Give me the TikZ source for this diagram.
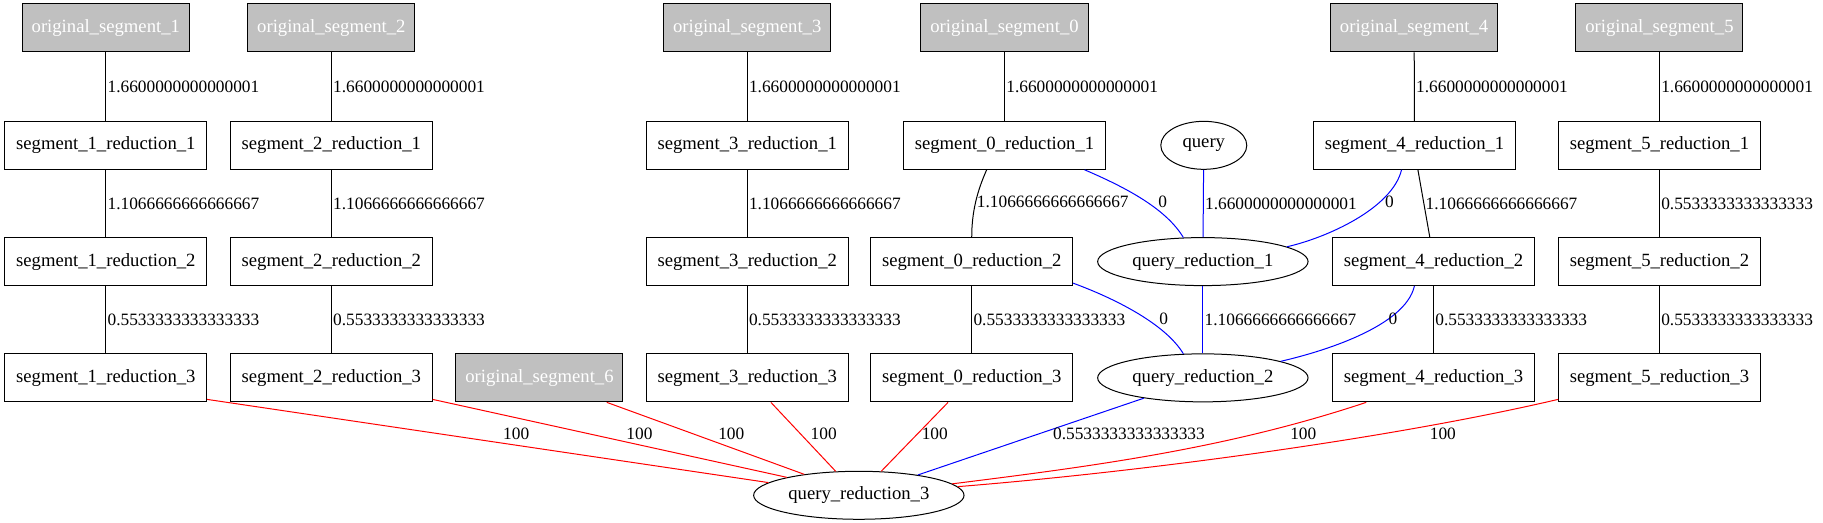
\documentclass[tikz,border=0pt]{standalone}
\usepackage{fontspec}
\setmainfont{Liberation Serif}
\usetikzlibrary{shapes.geometric,positioning}
\definecolor{origgray}{HTML}{C0C0C0}

\begin{document}
\begin{tikzpicture}[x=0.872pt,y=-0.872pt,
    every node/.style={font=\fontsize{14}{16}\selectfont},
    segbox/.style={rectangle,draw,line width=0.75pt,inner sep=0pt,minimum width=151.3pt,minimum height=36pt},
    origbox/.style={rectangle,draw,line width=0.75pt,inner sep=0pt,fill=origgray,text=white,minimum width=125.3pt,minimum height=36pt},
    qell/.style={ellipse,draw,line width=0.75pt,inner sep=0pt,minimum width=157.8pt,minimum height=36pt},
    lbl/.style={inner sep=1pt,font=\fontsize{13}{15}\selectfont},
    blackline/.style={draw=black,line width=0.75pt},
    blueline/.style={draw=blue,line width=0.75pt},
    redline/.style={draw=red,line width=0.75pt}]
  \useasboundingbox (0,0) rectangle (1568,449.8);

  % original segments
  \node[origbox] (os1) at (91,24) {original\_segment\_1};
  \node[origbox] (os2) at (285,24) {original\_segment\_2};
  \node[origbox] (os3) at (642.7,24) {original\_segment\_3};
  \node[origbox] (os0) at (864,24) {original\_segment\_0};
  \node[origbox] (os4) at (1216.3,24) {original\_segment\_4};
  \node[origbox] (os5) at (1427.3,24) {original\_segment\_5};
  \node[origbox] (os6) at (464,325) {original\_segment\_6};

  % reductions
  \node[segbox] (s1r1) at (91,125) {segment\_1\_reduction\_1};
  \node[segbox] (s1r2) at (91,225) {segment\_1\_reduction\_2};
  \node[segbox] (s1r3) at (91,325) {segment\_1\_reduction\_3};
  \node[segbox] (s2r1) at (285,125) {segment\_2\_reduction\_1};
  \node[segbox] (s2r2) at (285,225) {segment\_2\_reduction\_2};
  \node[segbox] (s2r3) at (285,325) {segment\_2\_reduction\_3};
  \node[segbox] (s3r1) at (642.7,125) {segment\_3\_reduction\_1};
  \node[segbox] (s3r2) at (642.7,225) {segment\_3\_reduction\_2};
  \node[segbox] (s3r3) at (642.7,325) {segment\_3\_reduction\_3};
  \node[segbox] (s0r1) at (864,125) {segment\_0\_reduction\_1};
  \node[segbox] (s0r2) at (835.8,225) {segment\_0\_reduction\_2};
  \node[segbox] (s0r3) at (835.8,325) {segment\_0\_reduction\_3};
  \node[segbox] (s4r1) at (1216.7,125) {segment\_4\_reduction\_1};
  \node[segbox] (s4r2) at (1233,225) {segment\_4\_reduction\_2};
  \node[segbox] (s4r3) at (1233,325) {segment\_4\_reduction\_3};
  \node[segbox] (s5r1) at (1427.3,125) {segment\_5\_reduction\_1};
  \node[segbox] (s5r2) at (1427.3,225) {segment\_5\_reduction\_2};
  \node[segbox] (s5r3) at (1427.3,325) {segment\_5\_reduction\_3};

  % query chain
  \node[qell,minimum width=64.5pt] (q) at (1035.4,125) {query};
  \node[qell] (qr1) at (1034.6,225) {query\_reduction\_1};
  \node[qell] (qr2) at (1034.6,325) {query\_reduction\_2};
  \node[qell] (qr3) at (738.7,426) {query\_reduction\_3};

  % straight columns
  \draw[blackline] (os1) -- (s1r1) node[lbl,midway,right] {1.6600000000000001};
  \draw[blackline] (s1r1) -- (s1r2) node[lbl,midway,right] {1.1066666666666667};
  \draw[blackline] (s1r2) -- (s1r3) node[lbl,midway,right] {0.5533333333333333};
  \draw[blackline] (os2) -- (s2r1) node[lbl,midway,right] {1.6600000000000001};
  \draw[blackline] (s2r1) -- (s2r2) node[lbl,midway,right] {1.1066666666666667};
  \draw[blackline] (s2r2) -- (s2r3) node[lbl,midway,right] {0.5533333333333333};
  \draw[blackline] (os3) -- (s3r1) node[lbl,midway,right] {1.6600000000000001};
  \draw[blackline] (s3r1) -- (s3r2) node[lbl,midway,right] {1.1066666666666667};
  \draw[blackline] (s3r2) -- (s3r3) node[lbl,midway,right] {0.5533333333333333};
  \draw[blackline] (os0) -- (s0r1) node[lbl,midway,right] {1.6600000000000001};
  \draw[blackline] ([xshift=-13.4pt]s0r1.south) .. controls +(-8,18) and +(0,-22) .. (s0r2.north)
    node[lbl,anchor=west] at (838.7,174) {1.1066666666666667};
  \draw[blackline] (s0r2) -- (s0r3) node[lbl,midway,right] {0.5533333333333333};
  \draw[blackline] (os4) -- (s4r1) node[lbl,midway,right] {1.6600000000000001};
  \draw[blackline] ([xshift=2.5pt]s4r1.south) -- ([xshift=-2.8pt]s4r2.north) node[lbl,midway,right] {1.1066666666666667};
  \draw[blackline] (s4r2) -- (s4r3) node[lbl,midway,right] {0.5533333333333333};
  \draw[blackline] (os5) -- (s5r1) node[lbl,midway,right] {1.6600000000000001};
  \draw[blackline] (s5r1) -- (s5r2) node[lbl,midway,right] {0.5533333333333333};
  \draw[blackline] (s5r2) -- (s5r3) node[lbl,midway,right] {0.5533333333333333};

  % query edges
  \draw[blueline] (q) -- (qr1) node[lbl,midway,right] {1.6600000000000001};
  \draw[blueline] (s0r1.-17) .. controls +(35,15) and +(-15,-25) .. (qr1.129) node[lbl] at (1000,174) {0};
  \draw[blueline] (s4r1.-118) .. controls +(-8,33) and +(35,-8) .. (qr1.10) node[lbl] at (1195,174) {0};
  \draw[blueline] (qr1) -- (qr2) node[lbl,midway,right] {1.1066666666666667};
  \draw[blueline] (s0r2.-12) .. controls +(38,14) and +(-15,-25) .. (qr2.129) node[lbl] at (1001,274) {0};
  \draw[blueline] (s4r2.-128) .. controls +(-8,35) and +(35,-8) .. (qr2.12) node[lbl] at (1198,274) {0};
  \draw[blueline] (qr2.199) -- (qr3.19) node[lbl] at (971,373) {0.5533333333333333};

  % into the last reduction
  \draw[redline] (s1r3.-12) -- (qr3.172) node[lbl] at (444,373) {100};
  \draw[redline] (s2r3.-12) -- (qr3.166) node[lbl] at (550,373) {100};
  \draw[redline] (os6.-20) -- (qr3.159) node[lbl] at (629,373) {100};
  \draw[redline] (s3r3.-46) -- (qr3.134) node[lbl] at (708.5,373) {100};
  \draw[redline] (s0r3.-134) -- (qr3.47) node[lbl] at (804,373) {100};
  \draw[redline] (s4r3.-160) .. controls +(-120,40) and +(120,-15) .. (qr3.7) node[lbl] at (1121,373) {100};
  \draw[redline] (s5r3.-168) .. controls +(-150,35) and +(150,-12) .. (qr3.5) node[lbl] at (1241,373) {100};
\end{tikzpicture}
\end{document}
